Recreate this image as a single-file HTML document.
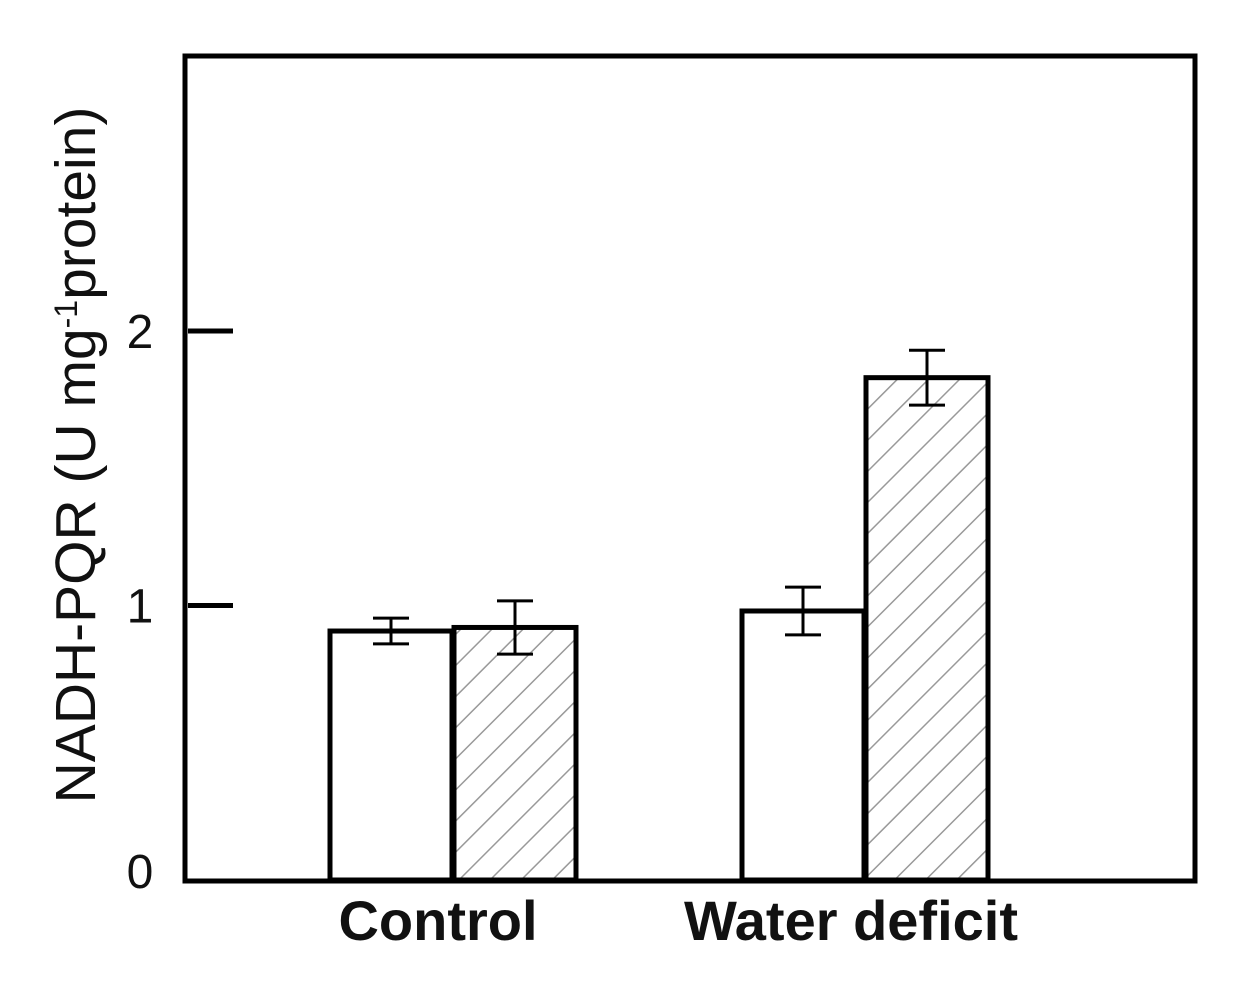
<!DOCTYPE html>
<html><head><meta charset="utf-8"><style>
body{margin:0;background:#fff;}
svg{display:block;font-family:"Liberation Sans",Arial,sans-serif;}
</style></head><body>
<svg id="chart" width="1235" height="996" viewBox="0 0 1235 996">
<defs>
<pattern id="hatch" patternUnits="userSpaceOnUse" width="22" height="22" patternTransform="rotate(45)">
<rect width="22" height="22" fill="#fff"/>
<line x1="0" y1="0" x2="0" y2="22" stroke="#999" stroke-width="3"/>
</pattern>
</defs>
<g id="marks"></g>
<rect x="185" y="56" width="1010" height="825" fill="none" stroke="#000" stroke-width="5"/>
<g id="axes"></g>
<text transform="translate(95,455) rotate(-90)" text-anchor="middle" font-size="57" fill="#111">NADH-PQR (U mg<tspan baseline-shift="super" font-size="32">-1</tspan>protein)</text>
</svg>
<script>
const groups=["Control","Water deficit"];
const seriesA=[0.907,0.98];
const seriesB=[0.92,1.83];
const errA=[0.047,0.087];
const errB=[0.097,0.10];
const yTicks=[0,1,2];
const NS="http://www.w3.org/2000/svg";
const y=v=>880-v*274.5;
const groupCenter=[453,865];
const labelCenter=[438,851];
const bw=122;
const marks=document.getElementById('marks');
const axes=document.getElementById('axes');
function mk(t,a,p){const e=document.createElementNS(NS,t);for(const k in a)e.setAttribute(k,a[k]);p.appendChild(e);return e;}
groups.forEach((g,i)=>{
  const c=groupCenter[i];
  [[seriesA,errA,'#fff',c-bw-1,'a'],[seriesB,errB,'url(#hatch)',c+1,'b']].forEach(([s,er,fill,x,k])=>{
    const r=mk('rect',{x:x,y:y(s[i]),width:bw,height:880-y(s[i]),fill:fill,stroke:'#000','stroke-width':5},marks);
    
    
    const cx=x+bw/2;
    const eg=mk('g',{stroke:'#000','stroke-width':3},marks);
    
    
    mk('line',{x1:cx,x2:cx,y1:y(s[i]+er[i]),y2:y(s[i]-er[i])},eg);
    mk('line',{x1:cx-18,x2:cx+18,y1:y(s[i]+er[i]),y2:y(s[i]+er[i])},eg);
    mk('line',{x1:cx-18,x2:cx+18,y1:y(s[i]-er[i]),y2:y(s[i]-er[i])},eg);
  });
  const t=mk('text',{x:labelCenter[i],y:940,'text-anchor':'middle','font-size':56,'font-weight':'bold',fill:'#111'},axes);
  t.textContent=g;
  
  
});
yTicks.forEach(v=>{
  if(v>0){const l=mk('line',{x1:188,x2:233,y1:y(v),y2:y(v),stroke:'#000','stroke-width':5},axes);
  
  }
  const t=mk('text',{x:140,y:y(v)+(v===0?8:17),'text-anchor':'middle','font-size':48,fill:'#111'},axes);
  t.textContent=v;
  
  
});
</script>
</body></html>
